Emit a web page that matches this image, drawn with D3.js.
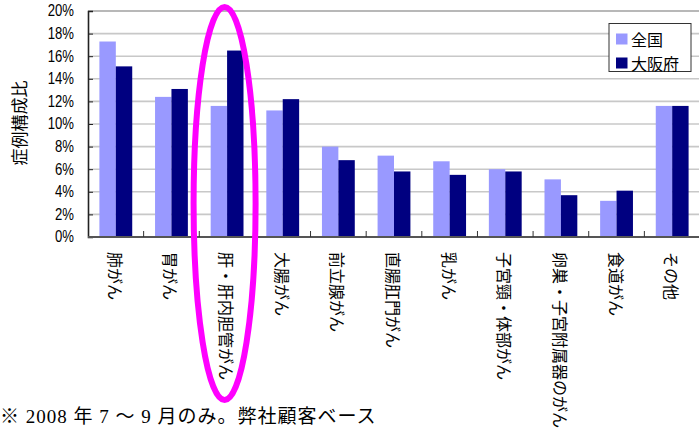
<!DOCTYPE html>
<html>
<head>
<meta charset="utf-8">
<script src="https://cdn.jsdelivr.net/npm/d3@7"></script>
<style>
  html, body { margin: 0; padding: 0; background: #fff; }
  svg { display: block; }
</style>
</head>
<body>
<svg id="chart" width="699" height="436"></svg>
<script>
// 部位別の症例構成比（%）
const categories = ["肺がん", "胃がん", "肝・肝内胆管がん", "大腸がん", "前立腺がん", "直腸肛門がん",
  "乳がん", "子宮頸・体部がん", "卵巣・子宮附属器のがん", "食道がん", "その他"];
const seriesNames = ["全国", "大阪府"];
const national = [17.3, 12.4, 11.6, 11.2, 8.0, 7.2, 6.7, 6.0, 5.1, 3.2, 11.6];
const osaka    = [15.1, 13.1, 16.5, 12.2, 6.8, 5.8, 5.5, 5.8, 3.7, 4.1, 11.6];
const yTicks = [0, 2, 4, 6, 8, 10, 12, 14, 16, 18, 20];
const highlighted = "肝・肝内胆管がん";
const footnote = "※ 2008 年 7 ～ 9 月のみ。弊社顧客ベース";

const colors = ["#9999FF", "#000080"];
const jpFont = "'Noto Sans CJK JP', sans-serif";

const svg = d3.select("#chart");
const plot = { left: 88, right: 700, top: 11, bottom: 237 };

const x0 = d3.scaleBand().domain(categories).range([plot.left, plot.right]);
const bw = x0.bandwidth();
const x1 = d3.scaleBand().domain(seriesNames).range([bw * 0.205, bw * 0.795]);
const y = d3.scaleLinear().domain([0, 20]).range([plot.bottom, plot.top]);
const color = d3.scaleOrdinal().domain(seriesNames).range(colors);

// 目盛線
svg.append("g").selectAll("line")
  .data(yTicks.filter(t => t > 0))
  .join("line")
  .attr("x1", plot.left).attr("x2", plot.right)
  .attr("y1", d => y(d)).attr("y2", d => y(d))
  .attr("stroke", d => d === 20 ? "#a0a0a0" : "#c8c8c8")
  .attr("stroke-width", 1.6);

// 棒
const rows = categories.map((c, i) => ({ cat: c, values: [
  { key: seriesNames[0], v: national[i] },
  { key: seriesNames[1], v: osaka[i] }
]}));

svg.append("g").selectAll("g")
  .data(rows)
  .join("g")
  .attr("transform", d => `translate(${x0(d.cat)},0)`)
  .selectAll("rect")
  .data(d => d.values)
  .join("rect")
  .attr("x", d => x1(d.key))
  .attr("width", x1.bandwidth())
  .attr("y", d => y(d.v))
  .attr("height", d => y(0) - y(d.v))
  .attr("fill", d => color(d.key));

// 縦軸
const yAxis = svg.append("g")
  .attr("transform", `translate(${plot.left},0)`)
  .call(d3.axisRight(y).tickValues(yTicks).tickSize(5).tickFormat(""));
yAxis.select(".domain").attr("stroke", "#222").attr("stroke-width", 1.6);
yAxis.selectAll(".tick line").attr("stroke", "#222");

// 縦軸ラベル
svg.append("g").selectAll("text")
  .data(yTicks)
  .join("text")
  .attr("transform", d => `translate(74,${y(d)}) scale(0.82,1)`)
  .attr("text-anchor", "end")
  .attr("dominant-baseline", "central")
  .attr("font-family", "'Liberation Sans', Arial, sans-serif")
  .attr("font-size", 16)
  .attr("fill", "#000")
  .text(d => d + "%");

// 横軸
const xAxis = svg.append("g")
  .attr("transform", `translate(0,${plot.bottom})`);
xAxis.append("line")
  .attr("x1", plot.left).attr("x2", plot.right)
  .attr("stroke", "#555").attr("stroke-width", 2);
xAxis.selectAll("line.tick")
  .data(categories.slice(1))
  .join("line")
  .attr("class", "tick")
  .attr("x1", d => x0(d)).attr("x2", d => x0(d))
  .attr("y1", 0).attr("y2", -6)
  .attr("stroke", "#333");

// 項目名（縦書き）
svg.append("g").selectAll("text")
  .data(categories)
  .join("text")
  .attr("transform", d => `translate(${x0(d) + bw / 2},252) rotate(90)`)
  .attr("text-anchor", "start")
  .attr("dominant-baseline", "central")
  .attr("font-family", jpFont)
  .attr("font-size", 16)
  .attr("fill", "#000")
  .text(d => d);

// 縦軸タイトル
svg.append("text")
  .attr("transform", "translate(18,123) rotate(-90)")
  .attr("text-anchor", "middle")
  .attr("dominant-baseline", "central")
  .attr("font-family", jpFont)
  .attr("font-size", 17)
  .attr("fill", "#000")
  .text("症例構成比");

// 凡例
const legend = svg.append("g").attr("transform", "translate(609,23.5)");
legend.append("rect")
  .attr("width", 82).attr("height", 48)
  .attr("fill", "#fff").attr("stroke", "#333").attr("stroke-width", 1);
const li = legend.selectAll("g.item")
  .data(seriesNames)
  .join("g")
  .attr("class", "item")
  .attr("transform", (d, i) => `translate(7,${10 + i * 24})`);
li.append("rect")
  .attr("width", 11.5).attr("height", 11)
  .attr("fill", d => color(d));
li.append("text")
  .attr("x", 15).attr("y", 5.5)
  .attr("dominant-baseline", "central")
  .attr("font-family", jpFont)
  .attr("font-size", 16)
  .attr("fill", "#000")
  .text(d => d);

// 注記
svg.append("text")
  .attr("x", 0).attr("y", 423)
  .attr("font-family", "'Liberation Serif', 'Noto Sans CJK JP', serif")
  .attr("font-size", 19)
  .attr("letter-spacing", 1)
  .attr("fill", "#000")
  .text(footnote);

// 注目項目の囲み
const hx = x0(highlighted) + bw / 2;
svg.append("ellipse")
  .attr("cx", hx - 2.5).attr("cy", 203.5)
  .attr("rx", 31).attr("ry", 196.5)
  .attr("fill", "none")
  .attr("stroke", "#FF00FF")
  .attr("stroke-width", 6);
</script>
</body>
</html>
